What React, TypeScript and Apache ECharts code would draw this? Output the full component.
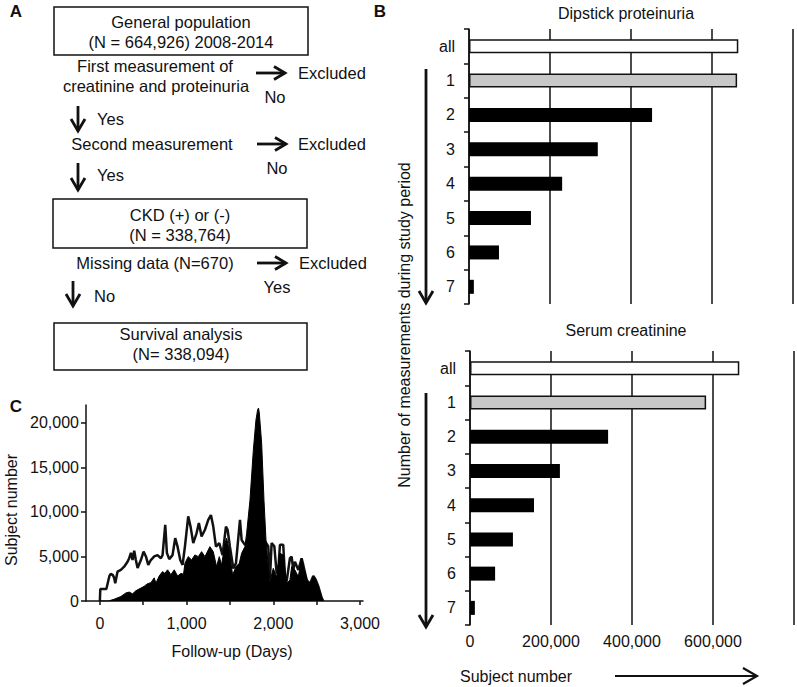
import React, { useEffect, useRef } from 'react';
import * as echarts from 'echarts';

// ---------- Panel B data ----------
const barCategories = ['all', '1', '2', '3', '4', '5', '6', '7'];
const proteinuriaCounts = [664926, 662000, 452000, 318000, 230000, 153000, 74000, 12000];
const creatinineCounts = [664926, 583000, 341000, 222000, 158000, 106000, 62000, 12000];
const barFills = ['#ffffff', '#c8c8c8', '#000000', '#000000', '#000000', '#000000', '#000000', '#000000'];
const subjectAxisLabels = [0, 200000, 400000, 600000];

// ---------- Panel C data ----------
const lineDays = [0, 5, 75, 110, 125, 150, 165, 177, 204, 242, 280, 319, 338, 358, 377, 396, 415, 435, 473, 504, 531, 558, 588, 627, 665, 704, 723, 754, 773, 800, 838, 869, 896, 927, 954, 981, 1019, 1046, 1077, 1115, 1142, 1173, 1212, 1250, 1281, 1308, 1339, 1377, 1415, 1454, 1473, 1500, 1539, 1570, 1616, 1635, 1673, 1700, 1750, 1850, 1904, 1942, 1962, 1981, 2012, 2039, 2058, 2077, 2115, 2135, 2154, 2192, 2212, 2231, 2250, 2289, 2327, 2346, 2385, 2423, 2462, 2489, 2519, 2558, 2577];
const lineCounts = [0, 1350, 1350, 2800, 3050, 2900, 2600, 2000, 3300, 3500, 3850, 4400, 4800, 5400, 4600, 5650, 4600, 3700, 4600, 5550, 5000, 4050, 4600, 5000, 5150, 4800, 5150, 8550, 5400, 4700, 5150, 7050, 6100, 4600, 4050, 6100, 9500, 8350, 6500, 7600, 8750, 7250, 8000, 9100, 9650, 8350, 6100, 6500, 5150, 8350, 8000, 6100, 3650, 4250, 9100, 6850, 6300, 6500, 7000, 7000, 6700, 6150, 2540, 6500, 6150, 3100, 3480, 6300, 6300, 2730, 2170, 4800, 4970, 3480, 4420, 3480, 4800, 4050, 2360, 1900, 2800, 2400, 1650, 350, 0];
const areaDays = [0, 100, 165, 242, 300, 338, 377, 415, 473, 511, 550, 588, 627, 646, 684, 723, 750, 781, 819, 858, 896, 935, 965, 981, 1019, 1058, 1096, 1135, 1173, 1212, 1250, 1269, 1308, 1346, 1377, 1404, 1443, 1462, 1492, 1531, 1570, 1608, 1635, 1673, 1693, 1731, 1770, 1800, 1820, 1830, 1839, 1866, 1893, 1916, 1942, 1962, 2000, 2039, 2077, 2115, 2154, 2192, 2212, 2250, 2289, 2327, 2354, 2392, 2423, 2462, 2489, 2519, 2558, 2577];
const areaCounts = [0, 0, 200, 500, 900, 1000, 800, 1150, 1450, 1650, 1950, 2050, 2600, 2000, 2800, 3300, 3100, 3500, 2950, 3500, 2800, 3100, 3000, 4240, 4980, 4610, 5170, 4980, 5540, 4980, 5730, 6100, 5540, 3860, 4980, 4050, 6470, 7040, 5730, 2920, 3860, 4240, 5350, 6100, 7600, 11300, 16900, 20300, 21500, 21650, 21100, 17700, 11300, 6850, 3860, 2170, 3670, 2730, 5350, 5160, 1980, 2360, 3860, 3480, 2730, 4800, 3480, 2360, 1790, 2730, 2360, 1600, 300, 0];
const followTickDays = [0, 500, 1000, 1500, 2000, 2500, 3000];
const followLabelDays = [0, 1000, 2000, 3000];
const subjectTicksC = [0, 5000, 10000, 15000, 20000];

const FONT = "'Liberation Sans', Arial, Helvetica, sans-serif";
const INK = '#111111';

const fmt = (v: number) => Number(v).toLocaleString('en-US');

function txt(x: number, y: number, s: string, align = 'center', size = 16, weight = 'normal', rotation = 0) {
  return {
    type: 'text', x, y, rotation, silent: true,
    style: {
      text: s, fill: INK, font: `${weight} ${size}px ${FONT}`,
      align, textAlign: align, verticalAlign: 'middle', textVerticalAlign: 'middle',
    },
  };
}
function ln(x1: number, y1: number, x2: number, y2: number, w = 2.8) {
  return { type: 'line', silent: true, shape: { x1, y1, x2, y2 }, style: { stroke: INK, lineWidth: w } };
}
function pl(points: number[][], w = 2.8) {
  return { type: 'polyline', silent: true, shape: { points }, style: { stroke: INK, lineWidth: w, fill: null } };
}
function box(x: number, y: number, w: number, h: number) {
  return { type: 'rect', silent: true, shape: { x, y, width: w, height: h }, style: { fill: '#fff', stroke: INK, lineWidth: 1.5 } };
}
function rightArrow(x1: number, x2: number, y: number) {
  return [ln(x1, y, x2, y), pl([[x2 - 11, y - 6.5], [x2, y], [x2 - 11, y + 6.5]])];
}
function downArrow(x: number, y1: number, y2: number) {
  return [ln(x, y1, x, y2), pl([[x - 7, y2 - 12], [x, y2], [x + 7, y2 - 12]])];
}

export default function App() {
  const ref = useRef<HTMLDivElement>(null);
  useEffect(() => {
    if (!ref.current) return;
    const chart = echarts.init(ref.current, null, { renderer: 'svg' });

    const axisLineStyle = { color: INK, width: 1.5 };
    const catAxis = (gridIndex: number) => ({
      gridIndex, type: 'category', data: barCategories, inverse: true,
      axisLine: { show: true, onZero: false, lineStyle: axisLineStyle },
      axisTick: { show: true, length: 5, lineStyle: axisLineStyle },
      axisLabel: { fontSize: 16, color: INK, margin: 14, fontFamily: FONT },
      splitLine: { show: false },
    });
    const barSeries = (idx: number, vals: number[]) => ({
      type: 'bar', xAxisIndex: idx, yAxisIndex: idx, barWidth: 14,
      data: vals.map((v, i) => ({
        value: v,
        itemStyle: { color: barFills[i], borderColor: INK, borderWidth: i < 2 ? 1.5 : 0 },
      })),
    });

    const graphics: any[] = [
      // panel labels
      txt(16, 11, 'A', 'center', 17, 'bold'),
      txt(380, 11, 'B', 'center', 17, 'bold'),
      txt(16, 406, 'C', 'center', 17, 'bold'),
      // panel A flowchart
      box(54, 7, 254, 48),
      txt(181, 22, 'General population', 'center', 16.5),
      txt(181, 42, '(N = 664,926) 2008-2014', 'center', 16.5),
      txt(155, 66, 'First measurement of', 'center', 16.5),
      txt(156, 86, 'creatinine and proteinuria', 'center', 16.5),
      ...rightArrow(256, 285, 73),
      txt(298, 73, 'Excluded', 'left', 16.5),
      txt(275, 97, 'No', 'center', 16.5),
      ...downArrow(78, 106, 131),
      txt(97, 119, 'Yes', 'left', 16.5),
      txt(152, 144, 'Second measurement', 'center', 16.5),
      ...rightArrow(257, 286, 144),
      txt(298, 144, 'Excluded', 'left', 16.5),
      txt(277, 168, 'No', 'center', 16.5),
      ...downArrow(78, 163, 190),
      txt(97, 175, 'Yes', 'left', 16.5),
      box(53, 199, 254, 49),
      txt(180, 215, 'CKD (+) or (-)', 'center', 16.5),
      txt(180, 235, '(N = 338,764)', 'center', 16.5),
      txt(155, 263, 'Missing data (N=670)', 'center', 16.5),
      ...rightArrow(257, 286, 263),
      txt(299, 263, 'Excluded', 'left', 16.5),
      txt(277, 287, 'Yes', 'center', 16.5),
      ...downArrow(73, 281, 306),
      txt(94, 296, 'No', 'left', 16.5),
      box(54, 323, 253, 47),
      txt(181, 334, 'Survival analysis', 'center', 16.5),
      txt(181, 354, '(N= 338,094)', 'center', 16.5),
      // panel B
      txt(626, 13, 'Dipstick proteinuria', 'center', 16),
      txt(626, 330, 'Serum creatinine', 'center', 16),
      txt(404, 325, 'Number of measurements during study period', 'center', 16, 'normal', Math.PI / 2),
      ...downArrow(426, 69, 303),
      ...downArrow(426, 393, 627),
      txt(460, 676, 'Subject number', 'left', 16),
      ln(615, 676, 757, 676, 2.2),
      pl([[743, 668], [757, 676], [743, 684]], 2.2),
      // panel C
      txt(11, 510, 'Subject number', 'center', 16, 'normal', Math.PI / 2),
      txt(232, 651, 'Follow-up (Days)', 'center', 16),
    ];

    const option: any = {
      animation: false,
      backgroundColor: '#ffffff',
      textStyle: { fontFamily: FONT },
      grid: [
        { left: 469, top: 29, width: 324, height: 275, outerBoundsMode: 'none' },
        { left: 470, top: 351, width: 324, height: 274, outerBoundsMode: 'none' },
        { left: 86, top: 405, width: 277, height: 196, outerBoundsMode: 'none' },
      ],
      xAxis: [
        {
          gridIndex: 0, type: 'value', min: 0, max: 800000, interval: 200000,
          axisLine: { show: false }, axisTick: { show: false }, axisLabel: { show: false },
          splitLine: { show: true, lineStyle: { color: INK, width: 1.5 } },
        },
        {
          gridIndex: 1, type: 'value', min: 0, max: 800000, interval: 200000,
          axisLine: { show: false }, axisTick: { show: false },
          axisLabel: {
            show: true, fontSize: 16, color: INK, margin: 8, fontFamily: FONT,
            customValues: subjectAxisLabels, formatter: (v: number) => fmt(v),
          },
          splitLine: { show: true, lineStyle: { color: INK, width: 1.5 } },
        },
        {
          gridIndex: 2, type: 'value', min: -160, max: 3035,
          axisLine: { show: true, onZero: false, lineStyle: axisLineStyle },
          axisTick: { show: true, length: 4, customValues: followTickDays, lineStyle: axisLineStyle },
          axisLabel: {
            show: true, fontSize: 16, color: INK, margin: 14, fontFamily: FONT,
            customValues: followLabelDays, formatter: (v: number) => fmt(v),
          },
          splitLine: { show: false },
        },
      ],
      yAxis: [
        catAxis(0),
        catAxis(1),
        {
          gridIndex: 2, type: 'value', min: 0, max: 22000,
          axisLine: { show: true, onZero: false, lineStyle: axisLineStyle },
          axisTick: { show: true, length: 5, customValues: subjectTicksC, lineStyle: axisLineStyle },
          axisLabel: {
            show: true, fontSize: 16, color: INK, margin: 7, fontFamily: FONT,
            customValues: subjectTicksC, formatter: (v: number) => fmt(v),
          },
          splitLine: { show: false },
        },
      ],
      series: [
        barSeries(0, proteinuriaCounts),
        barSeries(1, creatinineCounts),
        {
          type: 'line', xAxisIndex: 2, yAxisIndex: 2, symbol: 'none', z: 2,
          data: lineDays.map((d, i) => [d, lineCounts[i]]),
          itemStyle: { color: INK },
          lineStyle: { color: INK, width: 2.5 },
        },
        {
          type: 'line', xAxisIndex: 2, yAxisIndex: 2, symbol: 'none', z: 3,
          data: areaDays.map((d, i) => [d, areaCounts[i]]),
          itemStyle: { color: '#000' },
          lineStyle: { color: '#000', width: 1 },
          areaStyle: { color: '#000', opacity: 1 },
        },
      ],
      graphic: { elements: graphics },
    };
    chart.setOption(option);
    return () => chart.dispose();
  }, []);
  return (
    <div
      ref={ref}
      style={{ position: 'fixed', left: 0, top: 0, width: 797, height: 687, background: '#fff' }}
    />
  );
}
